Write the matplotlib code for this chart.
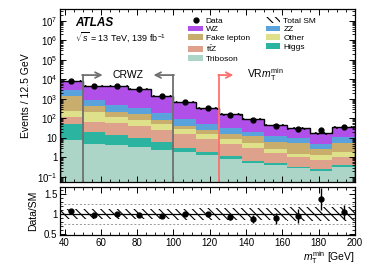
import numpy as np
import matplotlib
matplotlib.use('Agg')
import matplotlib.pyplot as plt
from matplotlib.patches import Patch
from matplotlib.lines import Line2D
from matplotlib.ticker import FixedLocator, LogLocator, NullFormatter, MultipleLocator

plt.rcParams['font.family'] = ['Liberation Sans', 'DejaVu Sans']
plt.rcParams['mathtext.fontset'] = 'custom'
plt.rcParams['mathtext.rm'] = 'Liberation Sans'
plt.rcParams['mathtext.it'] = 'Liberation Sans:italic'
plt.rcParams['mathtext.bf'] = 'Liberation Sans:bold'
plt.rcParams['hatch.linewidth'] = 0.8

# bins of 12.5 GeV in mT^min
edges = np.arange(37.5, 200.1, 12.5)

# background yields per bin
triboson = [7.9, 4.8, 4.1, 3.6, 2.5, 1.9, 1.26, 0.85, 0.52, 0.39, 0.27, 0.21, 0.34]
higgs    = [44, 16, 10.4, 6.2, 3.4, 1.3, 0.74, 0.27, 0.16, 0.10, 0.04, 0.03, 0.05]
ttz      = [71, 48, 42.5, 33, 20, 12.3, 7.0, 3.9, 2.3, 1.17, 0.79, 0.47, 0.61]
other    = [127, 131, 58, 40, 26, 12.5, 6.5, 4.0, 2.4, 1.14, 0.39, 0.55, 0.8]
fake     = [1200, 250, 95, 80, 31, 15, 10.5, 6.5, 6.4, 3.3, 3.9, 1.54, 3.6]
zz       = [1350, 420, 280, 192, 102, 50, 26, 16.5, 9.2, 5.7, 4.4, 2.0, 5.1]
wz       = [5300, 3830, 4110, 2845, 1265, 587, 278, 131, 72, 34, 22, 12.7, 25.5]

data = [8700, 4650, 4600, 3100, 1390, 680, 330, 152, 81, 41, 30, 24, 38]
# relative systematic uncertainty on total SM
sm_unc = [0.12, 0.12, 0.12, 0.13, 0.13, 0.14, 0.15, 0.15, 0.16, 0.16, 0.17, 0.17, 0.17]

TTZ = r't$\bar{\mathrm{t}}$Z'
stack = [
    ('Triboson', triboson, '#acd5c7'),
    ('Higgs', higgs, '#2bb5a0'),
    (TTZ, ttz, '#dea28c'),
    ('Other', other, '#dfe08a'),
    ('Fake lepton', fake, '#c9ad6c'),
    ('ZZ', zz, '#5aa2dc'),
    ('WZ', wz, '#b150e9'),
]
HATCH = '\\\\\\\\'

W, H = 374, 268
fig = plt.figure(figsize=(W / 100, H / 100), dpi=100)
ax = fig.add_axes([60 / W, 1 - 182 / H, 295 / W, 173 / H])
rax = fig.add_axes([60 / W, 1 - 235 / H, 295 / W, 48 / H], sharex=ax)

ymin, ymax = 0.055, 4e7
base = np.full(len(data), 1e-3)
handles = {}
for name, vals, col in stack:
    top = base + np.array(vals)
    ax.stairs(top, edges, baseline=base, fill=True, facecolor=col, edgecolor='none', lw=0)
    handles[name] = Patch(facecolor=col, edgecolor='none')
    base = top
total = base
unc = np.array(sm_unc)
ax.stairs(total * (1 + unc), edges, baseline=total * (1 - unc), fill=True,
          facecolor='none', edgecolor='black', hatch=HATCH, lw=0)
ax.stairs(total, edges, color='black', lw=1.0)

centers = 0.5 * (edges[:-1] + edges[1:])
data = np.array(data, dtype=float)
derr = np.sqrt(data)
ax.errorbar(centers, data, yerr=derr, fmt='o', color='black', ms=3.5, lw=1, capsize=0, zorder=5)

# region markers
yl = 1.65e4
gray = '#707070'
for x in (50, 100):
    ax.plot([x, x], [ymin, yl], color=gray, lw=1.3)
ax.annotate('', xy=(61, yl), xytext=(49.7, yl),
            arrowprops=dict(arrowstyle='->', color=gray, lw=1.3, shrinkA=0, shrinkB=0))
ax.annotate('', xy=(89, yl), xytext=(100.3, yl),
            arrowprops=dict(arrowstyle='->', color=gray, lw=1.3, shrinkA=0, shrinkB=0))
ax.text(75, yl, 'CRWZ', ha='center', va='center', fontsize=7.5)
red = '#ff6f6f'
ax.plot([125, 125], [ymin, yl], color=red, lw=1.3)
ax.annotate('', xy=(133, yl), xytext=(124.7, yl),
            arrowprops=dict(arrowstyle='->', color=red, lw=1.3, shrinkA=0, shrinkB=0))
ax.text(140.5, yl, r'VR$m_{\mathrm{T}}^{\mathrm{min}}$', ha='left', va='center', fontsize=7.5)

ax.text(0.05, 0.918, 'ATLAS', transform=ax.transAxes, fontsize=8.5,
        fontweight='bold', fontstyle='italic', va='center')
ax.text(0.05, 0.838, r'$\sqrt{s}$ = 13 TeV, 139 fb$^{-1}$', transform=ax.transAxes,
        fontsize=6.5, va='center')

ax.set_yscale('log')
ax.set_xlim(37.5, 200)
ax.set_ylim(ymin, ymax)
ax.yaxis.set_major_locator(FixedLocator([10.0 ** k for k in range(-1, 8)]))
ylabels = [r'$10^{-1}$', '1', '10'] + [r'$10^{%d}$' % k for k in range(2, 8)]
ax.set_yticklabels(ylabels)
ax.yaxis.set_minor_locator(LogLocator(base=10, subs=np.arange(2, 10), numticks=20))
ax.yaxis.set_minor_formatter(NullFormatter())
ax.set_ylabel('Events / 12.5 GeV', fontsize=7.5, labelpad=4)

leg_h = [Line2D([], [], marker='o', color='black', ls='none', ms=3.5),
         handles['WZ'], handles['Fake lepton'], handles[TTZ], handles['Triboson'],
         Patch(facecolor='none', edgecolor='black', hatch=HATCH, lw=0),
         handles['ZZ'], handles['Other'], handles['Higgs']]
leg_l = ['Data', 'WZ', 'Fake lepton', TTZ, 'Triboson',
         'Total SM', 'ZZ', 'Other', 'Higgs']
ax.legend(leg_h, leg_l, ncol=2, loc='upper left', bbox_to_anchor=(0.435, 0.955),
          frameon=False, fontsize=6, handlelength=1.75, handleheight=0.7,
          handletextpad=0.35, labelspacing=0.12, columnspacing=1.9, borderpad=0,
          borderaxespad=0)

# ratio panel
ratio = data / total
rerr = derr / total
rax.stairs(1 + unc, edges, baseline=1 - unc, fill=True, facecolor='none',
           edgecolor='black', hatch=HATCH, lw=0)
rax.axhline(1, color='black', lw=0.9)
for y in (0.75, 1.25):
    rax.axhline(y, color='#999999', lw=0.7, ls=(0, (2, 2)))
rax.errorbar(centers, ratio, yerr=rerr, fmt='o', color='black', ms=3.5, lw=1, capsize=0, zorder=5)
rax.set_ylim(0.475, 1.68)
rax.yaxis.set_major_locator(FixedLocator([0.5, 1.0, 1.5]))
rax.set_yticklabels(['0.5', '1', '1.5'])
rax.yaxis.set_minor_locator(MultipleLocator(0.1))
rax.set_ylabel('Data/SM', fontsize=7.5, labelpad=4)
rax.set_xlabel(r'$m_{\mathrm{T}}^{\mathrm{min}}$ [GeV]', fontsize=7.5, loc='right', labelpad=1)
rax.xaxis.set_major_locator(MultipleLocator(20))
rax.xaxis.set_minor_locator(MultipleLocator(5))

for a in (ax, rax):
    a.tick_params(which='both', direction='in', top=True, right=True, labelsize=7, pad=2)
    a.tick_params(which='major', length=4, width=0.7)
    a.tick_params(which='minor', length=2, width=0.6)
    for s in a.spines.values():
        s.set_linewidth(0.9)
ax.tick_params(labelbottom=False)

fig.savefig('out.png', dpi=100)
